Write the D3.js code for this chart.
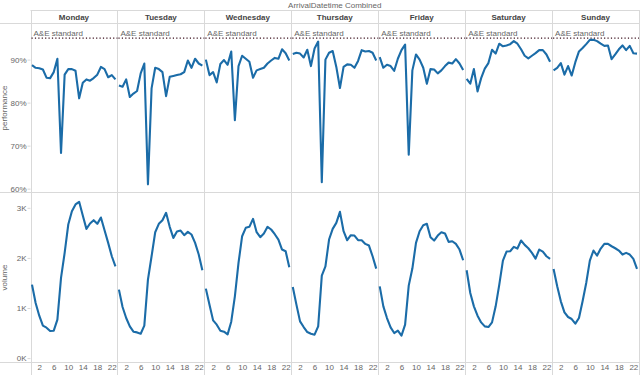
<!DOCTYPE html>
<html>
<head>
<meta charset="utf-8">
<script src="https://cdn.jsdelivr.net/npm/d3@7"></script>
<style>
  html, body { margin: 0; padding: 0; background: #fff; }
  text { font-family: "Liberation Sans", Arial, sans-serif; }
</style>
</head>
<body>
<svg id="chart" width="640" height="375"></svg>
<script>
// hourly A&E performance (% within 4h) and attendance volume, by weekday
const days = ['Monday','Tuesday','Wednesday','Thursday','Friday','Saturday','Sunday'];
const hours = [0,1,2,3,4,5,6,7,8,9,10,11,12,13,14,15,16,17,18,19,20,21,22,23];

const perfMonday    = [88.7,88.1,88.0,87.7,85.8,85.7,87.1,90.2,68.3,86.5,87.8,87.8,87.4,81.0,84.6,85.4,85.1,85.7,86.5,88.3,87.8,85.9,86.4,85.4];
const perfTuesday   = [84.0,83.7,85.4,81.3,82.1,82.7,86.8,89.1,61.0,83.3,88.1,87.8,87.1,81.5,86.0,86.2,86.4,86.6,87.1,89.8,88.1,90.2,89.1,88.6];
const perfWednesday = [90.0,86.4,87.1,84.7,89.0,89.9,88.8,91.9,75.9,88.5,90.9,90.2,89.5,85.8,87.5,87.8,88.1,89.1,89.8,90.4,90.2,92.4,91.5,89.8];
const perfThursday  = [91.3,91.6,91.4,90.5,92.3,88.5,92.6,94.2,61.5,90.0,91.6,92.0,88.3,83.4,88.3,88.9,88.8,88.1,89.7,92.2,91.9,92.0,91.6,89.8];
const perfFriday    = [90.6,88.1,88.8,88.5,87.4,90.2,92.2,93.5,67.9,87.5,91.2,90.0,88.1,84.4,87.8,87.7,86.8,87.5,88.5,89.3,89.1,90.1,89.1,87.6];
const perfSaturday  = [85.5,84.4,87.8,82.6,85.7,87.9,89.2,92.3,91.4,93.7,93.1,93.3,93.6,94.3,93.7,92.4,90.9,90.3,90.9,91.5,92.2,92.2,91.2,89.5];
const perfSunday    = [87.5,88.1,89.2,86.5,88.5,86.3,89.4,91.9,92.7,93.6,94.6,94.6,94.3,93.7,93.2,93.3,90.1,91.2,92.4,93.3,92.2,93.2,91.5,91.4];

const volMonday    = [1467,1100,847,647,607,540,547,767,1600,2100,2667,2933,3067,3120,2847,2580,2687,2753,2680,2807,2553,2300,2033,1833];
const volTuesday   = [1367,1020,800,633,527,513,487,647,1567,2033,2513,2680,2753,2900,2620,2400,2527,2547,2453,2520,2467,2300,2067,1753];
const volWednesday = [1387,1067,753,667,547,527,473,727,1233,1900,2433,2600,2620,2780,2513,2413,2487,2620,2567,2473,2367,2167,2133,1813];
const volThursday  = [1420,1067,733,620,520,487,467,633,1647,1833,2367,2580,2700,2920,2533,2353,2453,2447,2353,2353,2280,2247,2033,1787];
const volFriday    = [1433,1033,800,613,500,547,447,667,1447,1787,2300,2533,2653,2680,2413,2347,2447,2513,2487,2320,2333,2280,2167,1953];
const volSaturday  = [1753,1300,1033,847,713,633,620,713,1033,1467,1947,2127,2133,2220,2187,2347,2260,2193,2100,1987,2167,2127,2033,1980];
const volSunday    = [1780,1433,1133,913,820,780,687,800,1133,1500,1947,2147,2047,2187,2280,2280,2233,2193,2147,2067,2100,2067,1980,1780];

const xTicks = [2,6,10,14,18,22];
const perfTicks = [60,70,80,90];
const volTicks = [0,1000,2000,3000];
const aeStandard = 95;

const perfByDay = [perfMonday,perfTuesday,perfWednesday,perfThursday,perfFriday,perfSaturday,perfSunday];
const volByDay = [volMonday,volTuesday,volWednesday,volThursday,volFriday,volSaturday,volSunday];

const svg = d3.select('#chart');
const W = 640, H = 375;
const left = 30.5, right = 639;
const headTop = 10.5, headBot = 23.5, midY = 192.5, botY = 362.5;
const GRID = '#d9d9d9', LINE = '#1b6ca8';

const col = d3.scaleBand().domain(days).range([left, right]);
const pw = col.bandwidth();
const x = d3.scaleLinear().domain([0,23]).range([1.5, pw - 2]);
const yPerf = d3.scaleLinear().domain([59.1, 98.4]).range([midY, headBot]);
const yVol = d3.scaleLinear().domain([-88, 3306]).range([botY, midY]);

// frame lines
svg.append('line').attr('x1', left).attr('x2', W).attr('y1', headTop).attr('y2', headTop).attr('stroke', GRID);
[headBot, midY, botY].forEach(y =>
  svg.append('line').attr('x1', 0).attr('x2', W).attr('y1', y).attr('y2', y).attr('stroke', GRID));
days.concat(['end']).forEach((d, i) => {
  const xx = i < days.length ? Math.round(col(d)) + 0.5 : right + 0.5;
  svg.append('line').attr('x1', xx).attr('x2', xx).attr('y1', headTop).attr('y2', H).attr('stroke', GRID);
});

// title
svg.append('text').attr('x', (left + right) / 2).attr('y', 7.5)
  .attr('text-anchor', 'middle').attr('font-size', 8).attr('fill', '#666')
  .text('ArrivalDatetime Combined');

// y axes
const axP = svg.append('g').attr('transform', `translate(${left},0)`)
  .call(d3.axisLeft(yPerf).tickValues(perfTicks).tickSize(3).tickFormat(d => d + '%'));
const axV = svg.append('g').attr('transform', `translate(${left},0)`)
  .call(d3.axisLeft(yVol).tickValues(volTicks).tickSize(3).tickFormat(d => (d / 1000) + 'K'));
[axP, axV].forEach(a => {
  a.select('.domain').remove();
  a.selectAll('.tick line').attr('stroke', GRID);
  a.selectAll('.tick text').attr('font-size', 8).attr('fill', '#666').attr('x', -4)
    .style('font-family', '"Liberation Sans", Arial, sans-serif');
});

svg.append('text').attr('transform', `translate(7,${(headBot + midY) / 2}) rotate(-90)`)
  .attr('text-anchor', 'middle').attr('font-size', 8).attr('fill', '#666').text('performance');
svg.append('text').attr('transform', `translate(7,${(midY + botY) / 2}) rotate(-90)`)
  .attr('text-anchor', 'middle').attr('font-size', 8).attr('fill', '#666').text('volume');

const linePerf = d3.line().x((d, i) => x(hours[i])).y(d => yPerf(d));
const lineVol = d3.line().x((d, i) => x(hours[i])).y(d => yVol(d));

days.forEach((day, i) => {
  const g = svg.append('g').attr('transform', `translate(${col(day)},0)`);

  g.append('text').attr('x', pw / 2).attr('y', 20).attr('text-anchor', 'middle')
    .attr('font-size', 8).attr('font-weight', 'bold').attr('fill', '#444').text(day);

  // A&E standard reference line
  g.append('line').attr('x1', 1).attr('x2', pw).attr('y1', yPerf(aeStandard)).attr('y2', yPerf(aeStandard))
    .attr('stroke', '#3a0f1c').attr('stroke-width', 1.3).attr('stroke-dasharray', '1.2,2.2');
  g.append('text').attr('x', 3).attr('y', yPerf(aeStandard) - 2)
    .attr('font-size', 8).attr('fill', '#666').text('A&E standard');

  g.append('path').datum(perfByDay[i]).attr('d', linePerf)
    .attr('fill', 'none').attr('stroke', LINE).attr('stroke-width', 2.1).attr('stroke-linejoin', 'round');
  g.append('path').datum(volByDay[i]).attr('d', lineVol)
    .attr('fill', 'none').attr('stroke', LINE).attr('stroke-width', 2.1).attr('stroke-linejoin', 'round');

  const ax = g.append('g').attr('transform', `translate(0,${botY})`)
    .call(d3.axisBottom(x).tickValues(xTicks).tickSize(0));
  ax.select('.domain').remove();
  ax.selectAll('.tick text').attr('font-size', 8).attr('fill', '#666').attr('dy', '0.55em')
    .style('font-family', '"Liberation Sans", Arial, sans-serif');
});
</script>
</body>
</html>
